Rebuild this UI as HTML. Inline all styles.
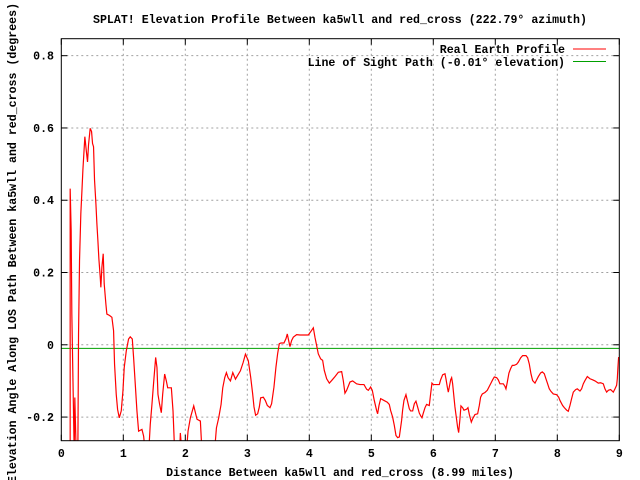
<!DOCTYPE html>
<html><head><meta charset="utf-8"><style>
html,body{margin:0;padding:0;background:#fff;}
svg{display:block;}
text{font-family:"Liberation Mono",monospace;font-weight:bold;font-size:11.6px;fill:#000;}
</style></head><body>
<svg id="chart" width="640" height="480" viewBox="0 0 640 480" xmlns="http://www.w3.org/2000/svg">
<defs><clipPath id="plotclip"><rect x="61.3" y="38.7" width="558" height="402"/></clipPath></defs>
<rect width="640" height="480" fill="#fff"/>
<text x="340" y="23" text-anchor="middle">SPLAT! Elevation Profile Between ka5wll and red_cross (222.79° azimuth)</text>
<g id="grid"></g>
<g id="ticks"></g>
<g id="series" clip-path="url(#plotclip)"></g>
<rect x="61.3" y="38.7" width="558" height="402" fill="none" stroke="#000" stroke-width="1"/>
<text x="340" y="476" text-anchor="middle">Distance Between ka5wll and red_cross (8.99 miles)</text>
<text x="0" y="0" text-anchor="middle" transform="translate(16,243) rotate(-90)">Elevation Angle Along LOS Path Between ka5wll and red_cross (degrees)</text>
<g>
<text x="565" y="53" text-anchor="end">Real Earth Profile</text>
<line x1="573" y1="49" x2="606" y2="49" stroke="#ff0000" stroke-width="1"/>
<text x="565" y="66" text-anchor="end">Line of Sight Path (-0.01° elevation)</text>
<line x1="573" y1="61.5" x2="606" y2="61.5" stroke="#00a000" stroke-width="1"/>
</g>
</svg>
<script>
const xTicks = [0,1,2,3,4,5,6,7,8,9];
const yTicks = [-0.2,0,0.2,0.4,0.6,0.8];
const yTickLabels = ["-0.2","0","0.2","0.4","0.6","0.8"];
const losElevation = -0.01;
const profileDist = [0.143,0.143,0.159,0.17,0.208,0.218,0.24,0.267,0.278,0.294,0.315,0.332,0.348,0.369,0.38,0.402,0.423,0.439,0.466,0.488,0.504,0.52,0.536,0.558,0.574,0.59,0.606,0.628,0.638,0.655,0.676,0.692,0.719,0.735,0.779,0.816,0.843,0.859,0.886,0.908,0.935,0.967,0.994,1.015,1.048,1.085,1.112,1.145,1.166,1.193,1.22,1.247,1.301,1.328,1.355,1.409,1.435,1.462,1.489,1.522,1.543,1.559,1.586,1.613,1.635,1.667,1.694,1.716,1.775,1.802,1.829,1.909,1.92,1.947,2.017,2.044,2.082,2.136,2.189,2.243,2.27,2.469,2.502,2.539,2.577,2.604,2.636,2.663,2.69,2.728,2.766,2.809,2.889,2.933,2.97,3.016,3.054,3.086,3.108,3.134,3.167,3.194,3.215,3.258,3.29,3.323,3.366,3.392,3.43,3.462,3.489,3.516,3.543,3.591,3.624,3.645,3.667,3.688,3.715,3.742,3.796,3.849,3.984,4.038,4.065,4.091,4.118,4.145,4.183,4.215,4.242,4.28,4.323,4.36,4.414,4.468,4.522,4.548,4.575,4.602,4.656,4.699,4.763,4.817,4.882,4.925,4.952,4.989,5.016,5.048,5.086,5.102,5.124,5.151,5.204,5.258,5.29,5.312,5.344,5.371,5.398,5.425,5.452,5.489,5.505,5.527,5.559,5.581,5.613,5.634,5.667,5.694,5.72,5.747,5.774,5.801,5.817,5.839,5.866,5.892,5.935,5.957,5.978,6.0,6.054,6.097,6.118,6.151,6.188,6.204,6.226,6.242,6.258,6.28,6.296,6.312,6.328,6.349,6.376,6.392,6.409,6.43,6.446,6.473,6.495,6.538,6.559,6.581,6.613,6.634,6.672,6.715,6.742,6.763,6.79,6.833,6.871,6.903,6.93,6.957,6.984,7.022,7.048,7.075,7.129,7.156,7.172,7.194,7.22,7.247,7.274,7.301,7.344,7.371,7.409,7.441,7.495,7.522,7.548,7.575,7.602,7.64,7.667,7.694,7.731,7.758,7.79,7.817,7.844,7.871,7.898,7.935,7.989,8.022,8.043,8.086,8.113,8.151,8.177,8.204,8.231,8.258,8.296,8.323,8.366,8.392,8.419,8.446,8.484,8.527,8.57,8.608,8.661,8.699,8.742,8.769,8.796,8.823,8.86,8.903,8.93,8.957,8.968,8.978,8.989];
const profileElev = [-0.3,0.432,0.317,0.085,-0.3,-0.146,-0.3,-0.3,0.03,0.233,0.363,0.423,0.483,0.544,0.576,0.539,0.506,0.553,0.599,0.59,0.557,0.548,0.456,0.391,0.335,0.289,0.238,0.187,0.159,0.215,0.252,0.169,0.113,0.085,0.081,0.076,0.039,-0.054,-0.137,-0.179,-0.202,-0.183,-0.128,-0.063,-0.017,0.016,0.022,0.016,-0.035,-0.109,-0.183,-0.239,-0.234,-0.253,-0.3,-0.3,-0.22,-0.165,-0.105,-0.035,-0.063,-0.137,-0.165,-0.188,-0.137,-0.081,-0.1,-0.119,-0.119,-0.183,-0.3,-0.3,-0.244,-0.3,-0.3,-0.239,-0.202,-0.169,-0.206,-0.211,-0.3,-0.3,-0.23,-0.202,-0.165,-0.119,-0.091,-0.077,-0.091,-0.1,-0.077,-0.095,-0.072,-0.049,-0.026,-0.044,-0.089,-0.135,-0.172,-0.195,-0.191,-0.172,-0.147,-0.145,-0.154,-0.168,-0.174,-0.163,-0.117,-0.062,-0.025,0.003,0.005,0.005,0.017,0.03,0.012,-0.005,0.012,0.021,0.028,0.027,0.027,0.04,0.047,0.021,-0.002,-0.025,-0.039,-0.043,-0.071,-0.094,-0.106,-0.099,-0.088,-0.076,-0.074,-0.099,-0.134,-0.126,-0.103,-0.1,-0.108,-0.11,-0.11,-0.123,-0.126,-0.117,-0.126,-0.154,-0.182,-0.191,-0.168,-0.149,-0.154,-0.159,-0.165,-0.182,-0.2,-0.223,-0.251,-0.257,-0.255,-0.209,-0.181,-0.154,-0.138,-0.154,-0.177,-0.183,-0.183,-0.163,-0.156,-0.172,-0.189,-0.198,-0.202,-0.189,-0.174,-0.165,-0.168,-0.136,-0.106,-0.11,-0.11,-0.11,-0.097,-0.083,-0.08,-0.094,-0.117,-0.131,-0.117,-0.097,-0.091,-0.108,-0.136,-0.172,-0.207,-0.228,-0.243,-0.205,-0.169,-0.174,-0.181,-0.178,-0.174,-0.193,-0.214,-0.205,-0.193,-0.191,-0.168,-0.145,-0.136,-0.132,-0.126,-0.115,-0.106,-0.097,-0.089,-0.091,-0.097,-0.108,-0.108,-0.115,-0.122,-0.103,-0.078,-0.066,-0.057,-0.057,-0.054,-0.048,-0.036,-0.03,-0.03,-0.036,-0.053,-0.08,-0.099,-0.106,-0.097,-0.088,-0.078,-0.075,-0.08,-0.094,-0.108,-0.122,-0.129,-0.136,-0.138,-0.145,-0.154,-0.168,-0.174,-0.181,-0.184,-0.168,-0.149,-0.131,-0.124,-0.122,-0.128,-0.122,-0.108,-0.099,-0.088,-0.094,-0.097,-0.1,-0.106,-0.105,-0.108,-0.122,-0.131,-0.126,-0.124,-0.131,-0.122,-0.112,-0.094,-0.062,-0.034];

const X0 = 61.3, X1 = 619.3, Y0 = 440.7, Y1 = 38.7;
const xMin = 0, xMax = 9, yMin = -0.2654, yMax = 0.847;
function sx(v){ return X0 + (v - xMin) / (xMax - xMin) * (X1 - X0); }
function sy(v){ return Y0 - (v - yMin) / (yMax - yMin) * (Y0 - Y1); }
const NS = "http://www.w3.org/2000/svg";
const grid = document.getElementById('grid');
const ticks = document.getElementById('ticks');
const series = document.getElementById('series');
function mk(tag, attrs, parent){ const e = document.createElementNS(NS, tag); for (const k in attrs) e.setAttribute(k, attrs[k]); parent.appendChild(e); return e; }

xTicks.forEach((t) => {
  const x = sx(t);
  if (t > xMin && t < xMax) {
    const g = mk('line', {x1:x, y1:Y1, x2:x, y2:Y0, stroke:'#a0a0a0', 'stroke-width':1, 'stroke-dasharray':'2,3'}, grid);
    
    
  }
  const a = mk('line', {x1:x, y1:Y0, x2:x, y2:Y0-6, stroke:'#000', 'stroke-width':1}, ticks);
  
  
  const b = mk('line', {x1:x, y1:Y1, x2:x, y2:Y1+6, stroke:'#000', 'stroke-width':1}, ticks);
  
  
  const l = mk('text', {x:x, y:457, 'text-anchor':'middle'}, ticks);
  l.textContent = String(t);
  
  
});
yTicks.forEach((t, i) => {
  const y = sy(t);
  const g = mk('line', {x1:X0, y1:y, x2:X1, y2:y, stroke:'#a0a0a0', 'stroke-width':1, 'stroke-dasharray':'2,3'}, grid);
  
  
  const a = mk('line', {x1:X0, y1:y, x2:X0+6, y2:y, stroke:'#000', 'stroke-width':1}, ticks);
  
  
  const b = mk('line', {x1:X1, y1:y, x2:X1-6, y2:y, stroke:'#000', 'stroke-width':1}, ticks);
  
  
  const l = mk('text', {x:54, y:y+4, 'text-anchor':'end'}, ticks);
  l.textContent = yTickLabels[i];
  
  
});

const los = mk('line', {x1:X0, y1:sy(losElevation), x2:X1, y2:sy(losElevation), stroke:'#00a000', 'stroke-width':1}, series);



let d = '';
profileDist.forEach((v, i) => { d += (i ? 'L' : 'M') + sx(v).toFixed(2) + ',' + sy(profileElev[i]).toFixed(2); });
const prof = mk('path', {d:d, fill:'none', stroke:'#ff0000', 'stroke-width':1.2, 'stroke-linejoin':'miter'}, series);


</script>
</body></html>
